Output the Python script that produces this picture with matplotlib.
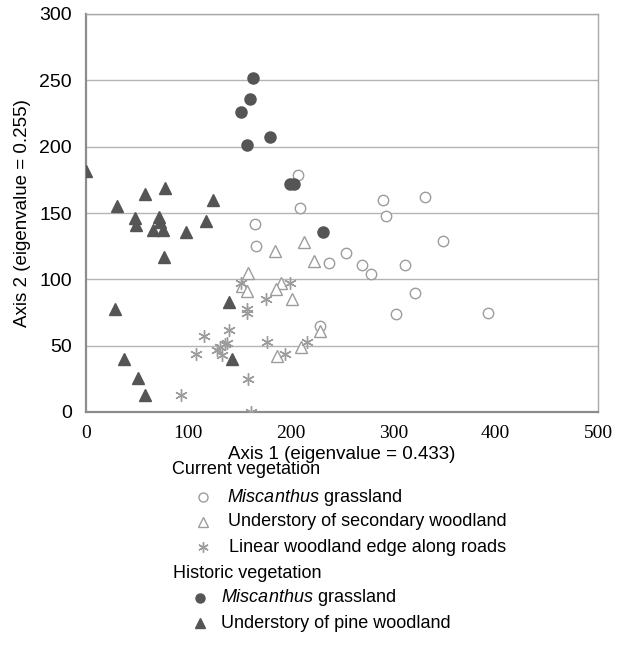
import matplotlib
matplotlib.use("Agg")
import matplotlib.pyplot as plt
from matplotlib.lines import Line2D

plt.rcParams["font.family"] = ["Liberation Sans", "DejaVu Sans"]
plt.rcParams["mathtext.fontset"] = "custom"
plt.rcParams["mathtext.it"] = "Liberation Sans:italic"
plt.rcParams["mathtext.rm"] = "Liberation Sans"

# current vegetation
cur_misc_x = [207, 209, 165, 166, 290, 293, 331, 349, 254, 237, 270, 278, 312, 321, 303, 393, 229]
cur_misc_y = [179, 154, 142, 125, 160, 148, 162, 129, 120, 112, 111, 104, 111, 90, 74, 75, 65]

cur_wood_x = [185, 213, 223, 158, 152, 157, 190, 186, 201, 229, 210, 187]
cur_wood_y = [121, 128, 114, 105, 95, 91, 97, 93, 85, 61, 49, 42]

cur_edge_x = [151, 199, 176, 157, 157, 140, 115, 107, 177, 136, 131, 128, 133, 138, 194, 216, 158, 93, 161]
cur_edge_y = [97, 97, 85, 78, 75, 62, 57, 44, 53, 51, 49, 47, 43, 52, 44, 53, 25, 13, 0]

# historic vegetation
his_misc_x = [151, 160, 157, 180, 199, 203, 231, 163]
his_misc_y = [226, 236, 201, 207, 172, 172, 136, 252]

his_pine_x = [0, 30, 58, 77, 48, 49, 71, 72, 65, 75, 98, 117, 124, 76, 28, 37, 51, 58, 140, 143]
his_pine_y = [182, 155, 164, 169, 146, 141, 147, 143, 137, 137, 136, 144, 160, 117, 78, 40, 26, 13, 83, 40]

x_ticks = [0, 100, 200, 300, 400, 500]
y_ticks = [0, 50, 100, 150, 200, 250, 300]

DARK = "#555555"
LIGHT = "#9c9c9c"
W, H = 620, 663

fig = plt.figure(figsize=(W / 100, H / 100), dpi=100)
ax = fig.add_axes([86 / W, 1 - 412 / H, (598 - 86) / W, (412 - 14) / H])

ax.plot(cur_misc_x, cur_misc_y, "o", ms=7.5, mfc="white", mec=LIGHT, mew=1.0, ls="none", zorder=3)
ax.plot(cur_wood_x, cur_wood_y, "^", ms=8, mfc="white", mec=LIGHT, mew=1.0, ls="none", zorder=3)
ax.plot(cur_edge_x, cur_edge_y, marker=(6, 2, 0), ms=9, mec=LIGHT, mew=1.0, ls="none", zorder=3)
ax.plot(his_misc_x, his_misc_y, "o", ms=8, mfc=DARK, mec=DARK, ls="none", zorder=4)
ax.plot(his_pine_x, his_pine_y, "^", ms=8.5, mfc=DARK, mec=DARK, ls="none", zorder=4)

ax.set_xlim(0, 500)
ax.set_ylim(0, 300)
ax.set_xticks(x_ticks)
ax.set_yticks(y_ticks)
ax.set_xticklabels([str(v) for v in x_ticks], family="Liberation Serif", fontsize=14)
ax.set_yticklabels([str(v) for v in y_ticks], fontsize=14)
ax.tick_params(length=0)
ax.tick_params(axis="y", pad=10)
ax.tick_params(axis="x", pad=9)
ax.yaxis.grid(True, color="#b4b4b4", lw=1.0)
ax.set_axisbelow(True)
for s in ["top", "right"]:
    ax.spines[s].set_color("#a8a8a8")
    ax.spines[s].set_linewidth(1.0)
for s in ["left", "bottom"]:
    ax.spines[s].set_color("#8c8c8c")
    ax.spines[s].set_linewidth(1.6)

ax.set_xlabel("Axis 1 (eigenvalue = 0.433)", fontsize=13.5, labelpad=3)
ax.set_ylabel("Axis 2 (eigenvalue = 0.255)", fontsize=13.5, labelpad=6)


def fx(px):
    return px / W


def fy(py):
    return 1 - py / H


# legend
fs = 13
fig.text(fx(172), fy(470), "Current vegetation", fontsize=fs, va="center")
fig.text(fx(173), fy(573), "Historic vegetation", fontsize=fs, va="center")
items = [
    (203, 497, 227, r"$\it{Miscanthus}$ grassland", dict(marker="o", mfc="white", mec=LIGHT, ms=6.5)),
    (203, 522, 228, "Understory of secondary woodland", dict(marker="^", mfc="white", mec=LIGHT, ms=6.5)),
    (203, 547, 229, "Linear woodland edge along roads", dict(marker=(6, 2, 0), mec=LIGHT, ms=7.5)),
    (200, 598, 221, r"$\it{Miscanthus}$ grassland", dict(marker="o", mfc=DARK, mec=DARK, ms=6.5)),
    (200, 623, 221, "Understory of pine woodland", dict(marker="^", mfc=DARK, mec=DARK, ms=6.5)),
]
for mx, my, tx, label, style in items:
    fig.add_artist(Line2D([fx(mx)], [fy(my)], ls="none", mew=1.0, transform=fig.transFigure, **style))
    fig.text(fx(tx), fy(my), label, fontsize=fs, va="center")

fig.savefig("out.png", dpi=100)
